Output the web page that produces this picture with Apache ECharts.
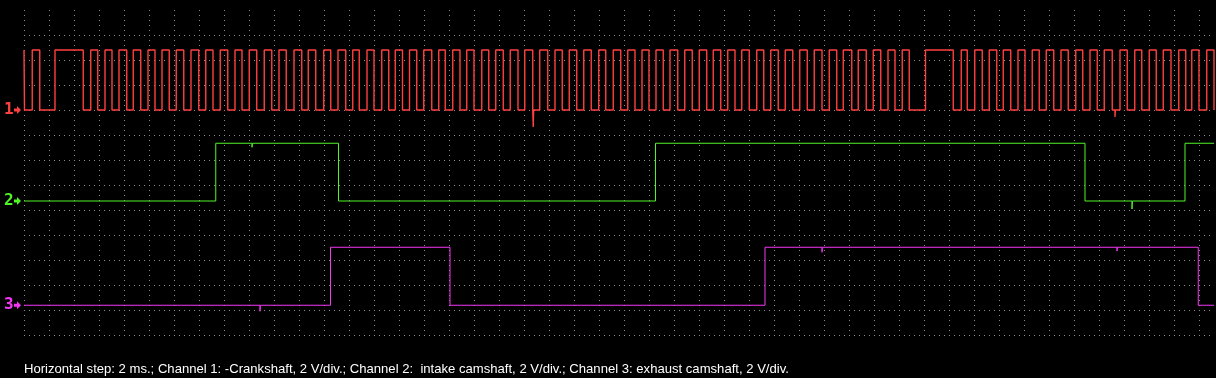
<!DOCTYPE html>
<html><head><meta charset="utf-8">
<script src="https://cdn.jsdelivr.net/npm/echarts@6/dist/echarts.min.js"></script>
<style>html,body{margin:0;padding:0;background:#000;}#c{width:1216px;height:378px;}</style>
</head><body><div id="c"></div>
<script>
// ---- data (time in ms, levels in volts) ----
const ch1Edges = [0.04,0.66,1.26,2.48,4.74,5.34,5.90,6.48,7.04,7.60,8.22,8.74,9.34,9.92,10.48,11.04,11.62,12.18,12.78,13.36,
  13.98,14.54,15.12,15.70,16.30,16.88,17.44,18.02,18.62,19.22,19.82,20.40,20.98,21.60,22.22,22.74,23.34,23.98,24.54,25.12,
  25.74,26.30,26.82,27.44,28.00,28.62,29.18,29.70,30.28,30.84,31.42,31.98,32.62,33.18,33.70,34.30,34.88,35.42,36.00,36.62,
  37.18,37.74,38.34,38.90,39.52,40.06,40.70,41.26,41.90,42.48,43.06,43.62,44.22,44.78,45.38,45.98,46.54,47.14,47.74,48.30,
  48.88,49.44,50.00,50.56,51.14,51.68,52.30,52.86,53.46,54.02,54.62,55.14,55.74,56.30,56.88,57.42,58.02,58.62,59.18,59.74,
  60.34,60.90,61.50,62.06,62.66,63.22,63.84,64.42,65.02,65.54,66.22,66.74,67.38,67.94,68.54,69.12,69.68,70.26,70.82,72.12,
  74.34,74.98,75.46,76.06,76.66,77.22,77.82,78.34,78.94,79.52,80.08,80.66,81.22,81.78,82.38,82.96,83.54,84.14,84.70,85.28,
  85.86,86.42,87.06,87.68,88.26,88.86,89.42,90.02,90.58,91.14,91.76,92.38,92.94,93.42,94.00,94.62,95.20];
const ch1StartHigh = true;
const ch1HighVolts = 4.8;
const ch1Glitches = [[40.74, -1.36], [87.28, -0.56]];   // [time ms, spike volts]

const ch2Edges = [15.34, 25.16, 50.52, 84.88, 92.88];
const ch2StartHigh = false;
const ch2HighVolts = 4.62;
const ch2Glitches = [[18.24, -0.32], [88.64, -0.64]];

const ch3Edges = [24.52, 34.08, 59.28, 93.94];
const ch3StartHigh = false;
const ch3HighVolts = 4.64;
const ch3Glitches = [[18.88, -0.48], [63.84, -0.4], [87.44, -0.3]];

const timeEnd = 95.2;         // ms shown
const voltsPerDiv = 2;
const msPerDiv = 2;
const channelLabels = ['1', '2', '3'];
const caption = 'Horizontal step: 2 ms.; Channel 1: -Crankshaft, 2 V/div.; Channel 2:  intake camshaft, 2 V/div.; Channel 3: exhaust camshaft, 2 V/div.';

// ---- presentation ----
const offsetsDiv = [9, 5.36, 1.19];
const colors = ['#ff4040', '#50f528', '#f535f5'];

function trace(edges, startHigh, highV, offset, glitches) {
  const ev = edges.map(t => ({t, kind: 'edge'})).concat(glitches.map(g => ({t: g[0], dv: g[1], kind: 'glitch'})));
  ev.sort((a, b) => a.t - b.t);
  let lvl = startHigh ? 1 : 0;
  const y = l => offset + (l ? highV : 0) / voltsPerDiv;
  const pts = [[0, y(lvl)]];
  for (const e of ev) {
    if (e.kind === 'edge') {
      pts.push([e.t, y(lvl)]);
      lvl = 1 - lvl;
      pts.push([e.t, y(lvl)]);
    } else {
      pts.push([e.t, y(lvl)]);
      pts.push([e.t, y(lvl) + e.dv / voltsPerDiv]);
      pts.push([e.t + 0.03, y(lvl)]);
    }
  }
  pts.push([timeEnd, y(lvl)]);
  return pts;
}

const chart = echarts.init(document.getElementById('c'), null, {renderer: 'canvas'});
const dotted = {color: '#8c8c8c', width: 1, type: [1, 4]};
const markerY = offsetsDiv.map(o => 335 - o * 25);

const graphics = [];
channelLabels.forEach((lab, i) => {
  const cy = markerY[i];
  graphics.push({type: 'text', left: 4, top: cy - 8, style: {text: lab, fill: colors[i], font: 'bold 16px "DejaVu Sans Mono"'}});
  graphics.push({type: 'polygon', shape: {points: [[14, cy - 1.5], [17, cy - 1.5], [17, cy - 4], [21, cy], [17, cy + 4], [17, cy + 1.5], [14, cy + 1.5]]}, style: {fill: colors[i]}});
});
graphics.push({type: 'text', left: 24, top: 363, style: {text: caption, fill: '#ffffff', font: '13.1px "Liberation Sans"'}});

chart.setOption({
  backgroundColor: '#000',
  animation: false,
  grid: {left: 24, right: 2, top: 10, bottom: 43},
  xAxis: {type: 'value', min: 0, max: timeEnd, interval: msPerDiv,
    axisLine: {show: false}, axisTick: {show: false}, axisLabel: {show: false},
    splitLine: {show: true, showMaxLine: false, lineStyle: dotted}},
  yAxis: {type: 'value', min: 0, max: 13, interval: 1,
    axisLine: {show: false}, axisTick: {show: false}, axisLabel: {show: false},
    splitLine: {show: true, showMaxLine: false, lineStyle: dotted}},
  series: [
    {type: 'line', data: trace(ch1Edges, ch1StartHigh, ch1HighVolts, offsetsDiv[0], ch1Glitches), showSymbol: false, lineStyle: {color: colors[0], width: 1.4}},
    {type: 'line', data: trace(ch2Edges, ch2StartHigh, ch2HighVolts, offsetsDiv[1], ch2Glitches), showSymbol: false, lineStyle: {color: colors[1], width: 1}},
    {type: 'line', data: trace(ch3Edges, ch3StartHigh, ch3HighVolts, offsetsDiv[2], ch3Glitches), showSymbol: false, lineStyle: {color: colors[2], width: 1}}
  ],
  graphic: graphics
});
</script></body></html>
